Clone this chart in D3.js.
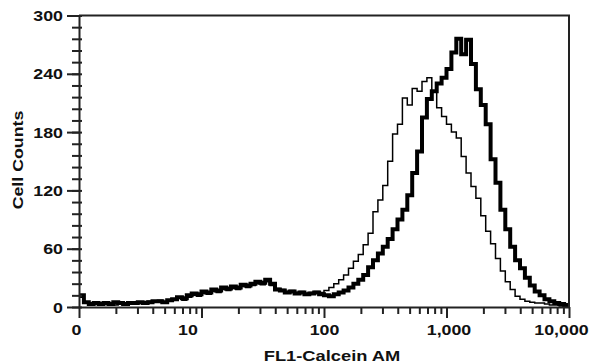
<!DOCTYPE html>
<html>
<head>
<meta charset="utf-8">
<script src="https://cdn.jsdelivr.net/npm/d3@7"></script>
<style>
  body { margin: 0; background: #fff; }
  svg text { font-family: "Liberation Sans", Arial, sans-serif; font-weight: bold; fill: #111; }
</style>
</head>
<body>
<div id="chart"></div>
<script>
// histogram bins: 100 bins of 0.04 decades, from 1 to 10,000
const BIN_DECADES = 0.04;

// thin line (counts per bin)
const thinCounts = [
  10, 4, 2, 3, 2, 4, 3, 2, 5, 3,
  4, 3, 5, 4, 6, 5, 7, 4, 6, 8,
  9, 7, 10, 12, 11, 14, 13, 16, 15, 18,
  17, 19, 18, 21, 20, 22, 24, 23, 26, 22,
  19, 18, 16, 17, 15, 16, 14, 15, 16, 15,
  17, 20, 24, 28, 33, 40, 47, 54, 64, 76,
  98, 110, 125, 150, 178, 188, 215, 208, 225, 222,
  232, 236, 222, 205, 196, 188, 180, 174, 155, 138,
  124, 112, 94, 78, 65, 50, 37, 26, 18, 11,
  8, 6, 5, 4, 4, 3, 2, 2, 1, 1
];

// thick line (counts per bin)
const thickCounts = [
  12, 5, 3, 4, 3, 4, 3, 5, 4, 3,
  4, 4, 5, 4, 5, 6, 6, 5, 7, 8,
  10, 9, 12, 14, 13, 16, 15, 18, 17, 20,
  19, 21, 20, 23, 22, 24, 26, 25, 28, 24,
  18, 17, 15, 16, 14, 15, 13, 14, 15, 13,
  12, 11, 13, 15, 17, 20, 24, 28, 33, 41,
  48, 55, 62, 70, 80, 90, 100, 115, 138, 160,
  195, 214, 222, 230, 236, 245, 262, 276, 260, 275,
  250, 224, 208, 188, 152, 128, 100, 80, 62, 48,
  40, 30, 22, 16, 12, 8, 6, 4, 3, 2
];

const xMajor = [1, 10, 100, 1000, 10000];
const xMajorLabels = ['0', '10', '100', '1,000', '10,000'];
const yMajor = [0, 60, 120, 180, 240, 300];
const yMinorStep = 12;

const xTitle = 'FL1-Calcein AM';
const yTitle = 'Cell Counts';

const width = 593, height = 364;
const mLeft = 79, mRight = 569, mTop = 15.5, mBottom = 307;
const STRETCH = 1.27; // the lettering in the picture is wide
const xLabelShift = [-3, -14, 0, 2, -8];

const svg = d3.select('#chart').append('svg')
  .attr('width', width).attr('height', height);

const x = d3.scaleLog().domain([1, 10000]).range([mLeft, mRight]);
const y = d3.scaleLinear().domain([0, 300]).range([mBottom, mTop]);

// make step points from the bin counts
const toSteps = (counts) => {
  let pts = counts.map((c, i) => [Math.pow(10, i * BIN_DECADES), c]);
  pts.push([Math.pow(10, counts.length * BIN_DECADES), counts[counts.length - 1]]);
  return pts;
};

const line = d3.line()
  .x(d => x(d[0]))
  .y(d => y(d[1]))
  .curve(d3.curveStepAfter);

svg.append('defs').append('clipPath').attr('id', 'plot')
  .append('rect').attr('x', mLeft).attr('y', mTop).attr('width', mRight - mLeft).attr('height', mBottom - mTop);

const g = svg.append('g').attr('clip-path', 'url(#plot)');

g.append('path')
  .attr('d', line(toSteps(thinCounts)))
  .attr('fill', 'none').attr('stroke', '#000')
  .attr('stroke-width', 1.5);

g.append('path')
  .attr('d', line(toSteps(thickCounts)))
  .attr('fill', 'none').attr('stroke', '#000')
  .attr('stroke-width', 4);

// frame (top and right)
svg.append('path')
  .attr('d', `M${mLeft},${mTop}H${mRight}V${mBottom}`)
  .attr('fill', 'none').attr('stroke', '#222').attr('stroke-width', 2);

// y axis
let yMinor = d3.range(0, 301, yMinorStep);
let yMinorAxis = svg.append('g').attr('transform', `translate(${mLeft},0)`)
  .call(d3.axisLeft(y).tickValues(yMinor).tickSize(7).tickFormat(''));
yMinorAxis.selectAll('line').attr('x2', -7).attr('x1', 3).attr('stroke-width', 2).attr('stroke', '#222');
yMinorAxis.select('.domain').remove();

let yAxis = svg.append('g').attr('transform', `translate(${mLeft},0)`)
  .call(d3.axisLeft(y).tickValues(yMajor).tickSize(12).tickPadding(4).tickSizeOuter(0));
yAxis.selectAll('line').attr('stroke-width', 2).attr('stroke', '#222');
yAxis.select('.domain').attr('stroke-width', 2).attr('stroke', '#222');
yAxis.selectAll('text').remove();
yAxis.selectAll('.tick').append('text')
  .attr('transform', `translate(-16,0) scale(${STRETCH},1)`)
  .attr('text-anchor', 'end').attr('dy', '0.36em')
  .style('font-size', '14px')
  .text(d => d);

// x axis
let xMinor = [];
for (let dec = 1; dec < 10000; dec *= 10) {
  for (let k = 2; k <= 9; k++) xMinor.push(dec * k);
}
let xMinorAxis = svg.append('g').attr('transform', `translate(0,${mBottom})`)
  .call(d3.axisBottom(x).tickValues(xMinor).tickSize(7).tickFormat(''));
xMinorAxis.selectAll('line').attr('stroke-width', 2).attr('stroke', '#222');
xMinorAxis.select('.domain').remove();

let xAxis = svg.append('g').attr('transform', `translate(0,${mBottom})`)
  .call(d3.axisBottom(x).tickValues(xMajor).tickSize(11).tickSizeOuter(0));
xAxis.selectAll('line').attr('stroke-width', 2).attr('stroke', '#222');
xAxis.select('.domain').attr('stroke-width', 2).attr('stroke', '#222');
xAxis.selectAll('text').remove();
xAxis.selectAll('.tick').append('text')
  .attr('transform', (d, i) => `translate(${xLabelShift[i]},28) scale(${STRETCH},1)`)
  .attr('text-anchor', 'middle')
  .style('font-size', '14px')
  .text((d, i) => xMajorLabels[i]);

// axis titles
svg.append('text')
  .attr('transform', `translate(332,361) scale(1.22,1)`)
  .attr('text-anchor', 'middle')
  .style('font-size', '15px')
  .text(xTitle);

svg.append('text')
  .attr('transform', `translate(23,160) rotate(-90) scale(${STRETCH},1)`)
  .attr('text-anchor', 'middle')
  .style('font-size', '14px')
  .text(yTitle);
</script>
</body>
</html>
